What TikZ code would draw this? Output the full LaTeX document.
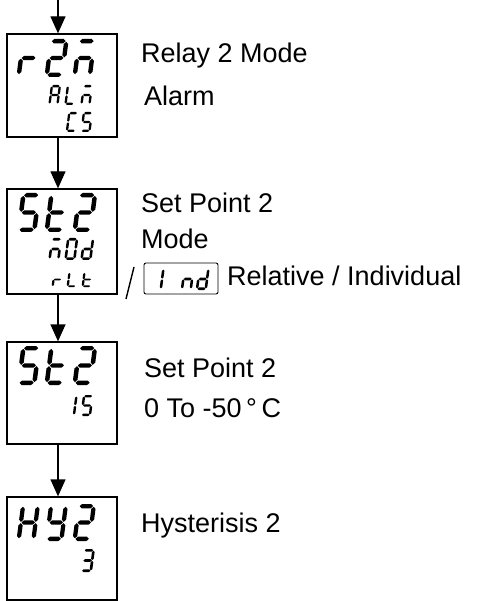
\documentclass[tikz,border=0pt]{standalone}
\usepackage{fontspec}
\setmainfont{Liberation Sans}
\usetikzlibrary{arrows.meta}
% seven-segment pieces (unit: centre-line height 1, width 0.45, v grows downward)
\newcommand{\Sega}{\fill (0.02,0) -- (0.085,-0.065) -- (0.365,-0.065) -- (0.43,0) -- (0.365,0.065) -- (0.085,0.065) -- cycle;}
\newcommand{\Segg}{\fill (0.02,0.5) -- (0.085,0.435) -- (0.365,0.435) -- (0.43,0.5) -- (0.365,0.565) -- (0.085,0.565) -- cycle;}
\newcommand{\Segd}{\fill (0.02,1) -- (0.085,0.935) -- (0.365,0.935) -- (0.43,1) -- (0.365,1.065) -- (0.085,1.065) -- cycle;}
\newcommand{\Segf}{\fill (0,0.02) -- (0.065,0.085) -- (0.065,0.415) -- (0,0.48) -- (-0.065,0.415) -- (-0.065,0.085) -- cycle;}
\newcommand{\Sege}{\fill (0,0.52) -- (0.065,0.585) -- (0.065,0.915) -- (0,0.98) -- (-0.065,0.915) -- (-0.065,0.585) -- cycle;}
\newcommand{\Segb}{\fill (0.45,0.02) -- (0.515,0.085) -- (0.515,0.415) -- (0.45,0.48) -- (0.385,0.415) -- (0.385,0.085) -- cycle;}
\newcommand{\Segc}{\fill (0.45,0.52) -- (0.515,0.585) -- (0.515,0.915) -- (0.45,0.98) -- (0.385,0.915) -- (0.385,0.585) -- cycle;}
% \lcd[xscale]{bottom-left x}{top y}{total height}{segments}
\newcommand{\lcd}[5][1]{\begin{scope}[shift={({#2+0.163*#4},{#3+0.0575*#4})},xslant=0.13,scale={#4/1.13},xscale=#1]\foreach \sg in {#5}{\csname Seg\sg\endcsname}\end{scope}}
\begin{document}
\begin{tikzpicture}[x=1pt,y=-1pt,
  lcdbox/.style={draw, line width=1.3pt, minimum width=110pt, inner sep=0pt},
  smallbox/.style={draw, rounded corners=2pt, line width=0.9pt, minimum width=74pt, minimum height=31pt, inner sep=0pt},
  arr/.style={line width=1.3pt, -{Triangle[width=15pt,length=17pt]}},
  lbl/.style={anchor=base west, inner sep=0pt, font=\fontsize{27}{31}\selectfont}]
\useasboundingbox (0,0) rectangle (485,601);
% boxes
\node[lcdbox, minimum height=103pt] (b1) at (62,85.5) {};
\node[lcdbox, minimum height=105pt] (b2) at (62,241.5) {};
\node[lcdbox, minimum height=102pt] (b3) at (62,393) {};
\node[lcdbox, minimum height=103pt] (b4) at (62,548.5) {};
\node[smallbox] (ind) at (181,278.5) {};
% connectors
\coordinate (s0) at (58,0);
\draw[arr] (s0) -- (s0 |- b1.north);
\draw[arr] (b1.south -| s0) -- (b2.north -| s0);
\draw[arr] (b2.south -| s0) -- (b3.north -| s0);
\draw[arr] (b3.south -| s0) -- (b4.north -| s0);
\coordinate (sl1) at (126,299);
\coordinate (sl2) at (134,267);
\draw[line width=1.4pt] (sl1) -- (sl2);
% box 1: r2M / ALM / CS
\lcd{17}{39}{38}{e,g}
\lcd{45}{39}{38}{a,b,g,e,d}
\lcd{73}{39}{38}{a,c,e,g}
\lcd{48.6}{85}{20}{a,b,c,e,f,g}
\lcd{64.6}{85}{20}{d,e,f}
\lcd{80.6}{85}{20}{a,c,e,g}
\lcd{66}{112}{20}{a,d,e,f}
\lcd{80.6}{112}{20}{a,f,g,c,d}
% box 2: St2 / M0d / rLt
\lcd{17}{193}{39}{a,f,g,c,d}
\lcd{45}{193}{39}{d,e,f,g}
\lcd{73}{193}{39}{a,b,g,e,d}
\lcd{48.6}{238}{22}{a,c,e,g}
\lcd{64.6}{238}{22}{a,b,c,d,e,f}
\lcd{80.6}{238}{22}{b,c,d,e,g}
\lcd[1.3]{52}{272}{15}{e,g}
\lcd[1.3]{67}{272}{15}{d,e,f}
\lcd[1.3]{82}{272}{15}{d,e,f,g}
% small box: 1 nd
\lcd{151}{268}{22}{b,c}
\lcd{181}{268}{22}{c,e,g}
\lcd{196}{268}{22}{b,c,d,e,g}
% box 3: St2 / 15
\lcd{17}{346}{39}{a,f,g,c,d}
\lcd{45}{346}{39}{d,e,f,g}
\lcd{73}{346}{39}{a,b,g,e,d}
\lcd{64.6}{395}{21}{b,c}
\lcd{80.6}{395}{21}{a,f,g,c,d}
% box 4: HY2 / 3
\lcd{17}{504}{37}{b,c,e,f,g}
\lcd{45}{504}{37}{b,c,d,f,g}
\lcd{73}{504}{37}{a,b,g,e,d}
\lcd{80.6}{549}{23}{a,b,c,d,g}
% labels
\node[lbl] (t1) at (141,63) {Relay 2 Mode};
\node[lbl] (t2) at (144,106) {Alarm};
\node[lbl] (t3) at (141,213) {Set Point 2};
\node[lbl] (t4) at (141,248) {Mode};
\node[lbl] (t5) at (227,285) {Relative / Individual};
\node[lbl] (t6) at (144,377) {Set Point 2};
\node[lbl] (t7) at (144,417) {0 To -50\,°\,C};
\node[lbl] (t8) at (141,532) {Hysterisis 2};
\end{tikzpicture}
\end{document}
